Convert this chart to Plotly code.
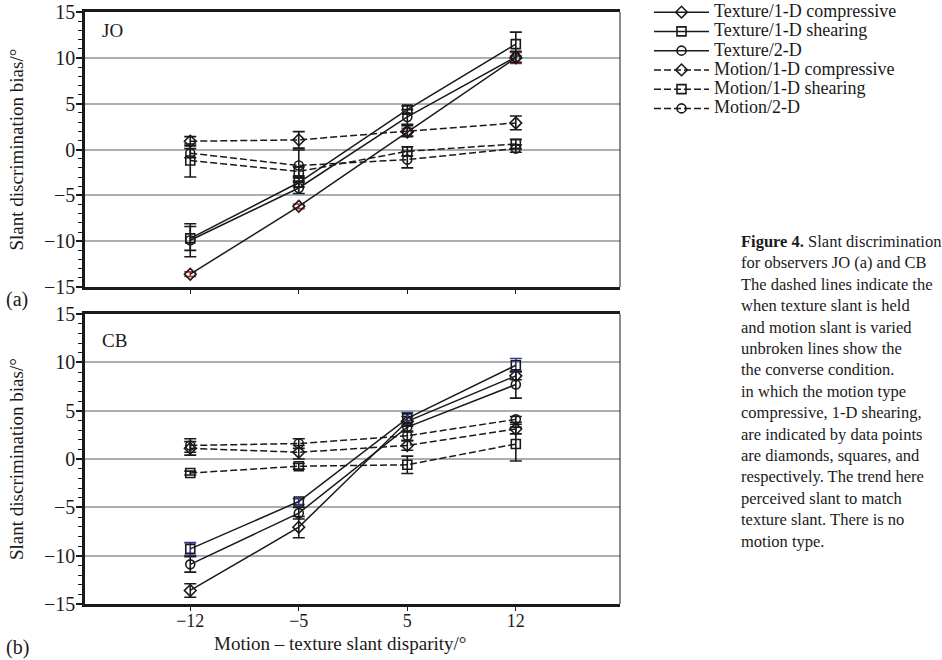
import plotly.graph_objects as go

categories = ["\u221212", "\u22125", "5", "12"]
series_names = ["Texture/1-D compressive", "Texture/1-D shearing", "Texture/2-D",
                "Motion/1-D compressive", "Motion/1-D shearing", "Motion/2-D"]

# Observer JO (a)
jo_tex_comp = [-13.6, -6.2, 1.9, 10.0]
jo_tex_comp_err = [0.25, 0.25, 0.4, 0.6]
jo_tex_shear = [-9.7, -3.6, 4.35, 11.5]
jo_tex_shear_err = [1.3, 0.5, 0.4, 1.3]
jo_tex_2d = [-9.9, -4.2, 3.55, 10.1]
jo_tex_2d_err = [1.8, 0.6, 0.8, 0.6]
jo_mot_comp = [0.9, 1.05, 2.0, 2.9]
jo_mot_comp_err = [0.5, 0.9, 0.6, 0.75]
jo_mot_shear = [-1.2, -2.4, -0.2, 0.6]
jo_mot_shear_err = [1.8, 0.5, 0.5, 0.5]
jo_mot_2d = [-0.4, -1.75, -1.1, 0.1]
jo_mot_2d_err = [0.5, 1.7, 0.9, 0.4]

# Observer CB (b)
cb_tex_comp = [-13.6, -7.05, 3.9, 8.6]
cb_tex_comp_err = [0.7, 1.1, 0.5, 0.4]
cb_tex_shear = [-9.3, -4.4, 4.2, 9.7]
cb_tex_shear_err = [0.65, 0.3, 0.6, 0.7]
cb_tex_2d = [-10.9, -5.6, 3.3, 7.7]
cb_tex_2d_err = [0.8, 0.6, 0.5, 1.4]
cb_mot_comp = [1.1, 0.7, 1.4, 3.1]
cb_mot_comp_err = [0.7, 0.7, 0.5, 0.5]
cb_mot_shear = [-1.45, -0.75, -0.6, 1.55]
cb_mot_shear_err = [0.2, 0.3, 0.9, 1.75]
cb_mot_2d = [1.4, 1.6, 2.4, 4.1]
cb_mot_2d_err = [0.7, 0.5, 0.5, 0.3]

y_tickvals = [-15, -10, -5, 0, 5, 10, 15]
y_ticktext = ["\u221215", "\u221210", "\u22125", "0", "5", "10", "15"]

symbols = ["diamond-open", "square-open", "circle-open",
           "diamond-open", "square-open", "circle-open"]
DASHED = "7px,3px"
dashes = ["solid", "solid", "solid", DASHED, DASHED, DASHED]

FONT = "Liberation Serif"
BLACK = "#1a1a1a"

jo_vals = [jo_tex_comp, jo_tex_shear, jo_tex_2d, jo_mot_comp, jo_mot_shear, jo_mot_2d]
jo_errs = [jo_tex_comp_err, jo_tex_shear_err, jo_tex_2d_err, jo_mot_comp_err, jo_mot_shear_err, jo_mot_2d_err]
cb_vals = [cb_tex_comp, cb_tex_shear, cb_tex_2d, cb_mot_comp, cb_mot_shear, cb_mot_2d]
cb_errs = [cb_tex_comp_err, cb_tex_shear_err, cb_tex_2d_err, cb_mot_comp_err, cb_mot_shear_err, cb_mot_2d_err]
jo_errcol = ["#b8322a", BLACK, BLACK, BLACK, BLACK, BLACK]
cb_errcol = [BLACK, "#33339a", BLACK, BLACK, BLACK, BLACK]

fig = go.Figure()

for i in range(6):
    fig.add_trace(go.Scatter(
        x=categories, y=jo_vals[i],
        name="<span style=\"font-family:'Liberation Serif';font-size:18px\">" + series_names[i] + "</span>",
        mode="lines+markers", xaxis="x", yaxis="y", showlegend=True,
        line=dict(color=BLACK, width=1.5, dash=dashes[i]),
        marker=dict(symbol=symbols[i], size=9, color=BLACK, line=dict(width=1.6, color=BLACK)),
        error_y=dict(type="data", array=jo_errs[i], visible=True, color=jo_errcol[i],
                     thickness=1.6, width=6)))

for i in range(6):
    fig.add_trace(go.Scatter(
        x=categories, y=cb_vals[i], name=series_names[i], mode="lines+markers",
        xaxis="x2", yaxis="y2", showlegend=False,
        line=dict(color=BLACK, width=1.5, dash=dashes[i]),
        marker=dict(symbol=symbols[i], size=9, color=BLACK, line=dict(width=1.6, color=BLACK)),
        error_y=dict(type="data", array=cb_errs[i], visible=True, color=cb_errcol[i],
                     thickness=1.6, width=6)))

def yax(domain, anchor):
    return dict(
        domain=domain, anchor=anchor, range=[-15, 15], automargin=False,
        tickvals=y_tickvals, ticktext=y_ticktext,
        showgrid=True, gridcolor="#a7aeb6", gridwidth=1.5, zeroline=False,
        showline=True, linecolor=BLACK, linewidth=2.5,
        ticks="outside", ticklen=6, tickwidth=1.5, tickcolor=BLACK,
        minor=dict(dtick=1, ticks="outside", ticklen=4, tickwidth=1.2, tickcolor=BLACK, showgrid=False),
        ticklabelstandoff=-3,
        tickfont=dict(family=FONT, size=20, color=BLACK),
    )

def xax(domain, anchor, labels):
    return dict(
        domain=domain, anchor=anchor, type="category", automargin=False,
        categoryorder="array", categoryarray=categories,
        range=[-0.97, 3.96], showgrid=False, zeroline=False,
        showline=True, linecolor=BLACK, linewidth=2.5, mirror=True,
        ticks="outside", ticklen=4, tickwidth=1.2, tickcolor=BLACK,
        showticklabels=labels, ticklabelstandoff=-5,
        tickfont=dict(family=FONT, size=18, color=BLACK),
    )

L, R, T, B = 85, 620, 12, 604

def px(x):
    return (x - L) / (R - L)

def py(y):
    return (B - y) / (B - T)

fig.update_layout(
    width=942, height=660,
    margin=dict(l=L, r=942 - R, t=T, b=660 - B, autoexpand=False),
    paper_bgcolor="white", plot_bgcolor="white",
    font=dict(family=FONT, size=18, color=BLACK),
    xaxis=xax([0, 1], "y", False),
    yaxis=yax([py(287), 1.0], "x"),
    xaxis2=xax([0, 1], "y2", True),
    yaxis2=yax([0.0, py(314)], "x2"),
    legend=dict(x=px(649), y=py(-2.5), xanchor="left", yanchor="top",
                font=dict(family=FONT, size=12.5, color=BLACK),
                bgcolor="rgba(0,0,0,0)", borderwidth=0, itemwidth=55,
                tracegroupgap=0),
    shapes=[
        dict(type="line", xref="x domain", yref="y domain", x0=1, x1=1, y0=0, y1=1,
             line=dict(color=BLACK, width=1)),
        dict(type="line", xref="x2 domain", yref="y2 domain", x0=1, x1=1, y0=0, y1=1,
             line=dict(color=BLACK, width=1)),
    ],
)

caption_lines = [
    "<b>Figure 4.</b> Slant discrimination",
    "for observers JO (a) and CB",
    "The dashed lines indicate the",
    "when texture slant is held",
    "and motion slant is varied",
    "unbroken lines show the",
    "the converse condition.",
    "in which the motion type",
    "compressive, 1-D shearing,",
    "are indicated by data points",
    "are diamonds, squares, and",
    "respectively. The trend here",
    "perceived slant to match",
    "texture slant. There is no",
    "motion type.",
]

def txt(text, x, y, xanchor="left", size=19, angle=0, xref="paper", yref="paper"):
    return dict(text=text, xref=xref, yref=yref, x=x, y=y, showarrow=False,
                xanchor=xanchor, yanchor="middle", textangle=angle,
                font=dict(family=FONT, size=size, color=BLACK))

ytitle = "Slant discrimination bias/\u00b0"
annotations = [
    txt("JO", 0.028, 0.9345, xref="x domain", yref="y domain"),
    txt("CB", 0.028, 0.91, xref="x2 domain", yref="y2 domain"),
    txt("(a)", px(4), py(299), size=20),
    txt("(b)", px(4), py(647), size=20),
    txt(ytitle, px(16), py(149.5), xanchor="center", angle=-90),
    txt(ytitle, px(16), py(459), xanchor="center", angle=-90),
    txt("Motion \u2013 texture slant disparity/\u00b0", px(340), py(643), xanchor="center", size=19),
]
for k, line in enumerate(caption_lines):
    annotations.append(txt(line, px(739), py(241.5 + 21.4 * k), size=16.5))
fig.update_layout(annotations=annotations)

fig.write_html("out.html", config={"displayModeBar": False},
               post_script="document.body.style.margin='0';")
